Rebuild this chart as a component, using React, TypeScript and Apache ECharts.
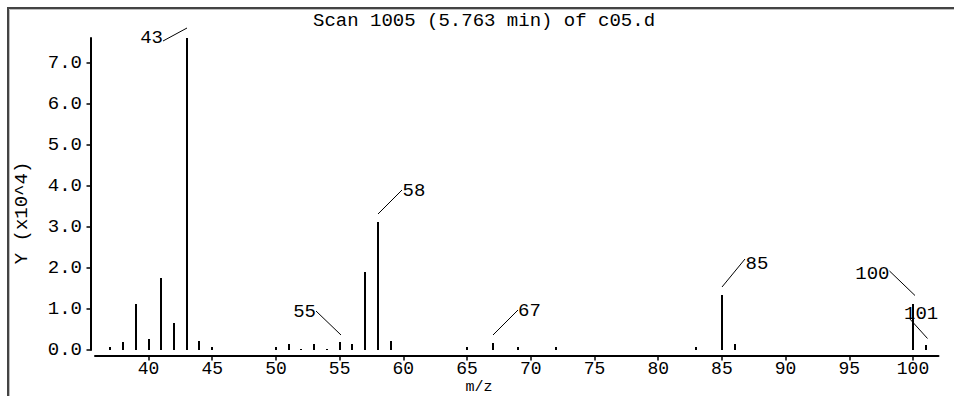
import React, { useEffect, useRef } from "react";
import * as echarts from "echarts";

// ---- data ----
const titleText = "Scan 1005 (5.763 min) of c05.d";
const xAxisName = "m/z";
const yAxisName = "Y (x10^4)";
const mzValues = [37, 38, 39, 40, 41, 42, 43, 44, 45, 50, 51, 52, 53, 54, 55, 56, 57, 58, 59, 65, 67, 69, 72, 83, 85, 86, 100, 101];
const abundances = [0.08, 0.19, 1.11, 0.27, 1.76, 0.65, 7.6, 0.22, 0.08, 0.08, 0.14, 0.03, 0.14, 0.03, 0.19, 0.14, 1.91, 3.13, 0.23, 0.08, 0.16, 0.08, 0.08, 0.08, 1.34, 0.14, 1.11, 0.12];
const labeledPeaks = [43, 55, 58, 67, 85, 100, 101];
const xTickValues = [40, 45, 50, 55, 60, 65, 70, 75, 80, 85, 90, 95, 100];
const yTickValues = [0, 1, 2, 3, 4, 5, 6, 7];

// ---- label placement (style only: pixel offsets from the peak top) ----
type LabelLayout = { line: [number, number, number, number]; text: [number, number]; align: "left" | "right" };
const labelLayout: Record<number, LabelLayout> = {
  43: { line: [0, -10, -24, 3], text: [-24, -0.5], align: "right" },
  55: { line: [1, -7, -24, -31], text: [-24, -30.5], align: "right" },
  58: { line: [0, -8, 24, -32], text: [24.5, -31.5], align: "left" },
  67: { line: [0, -8, 25, -33], text: [25, -32], align: "left" },
  85: { line: [0, -8, 23, -36], text: [23.5, -31], align: "left" },
  100: { line: [2, -8.5, -23.5, -33], text: [-23.5, -30.5], align: "right" },
  101: { line: [1.5, -6.5, -17, -27], text: [-22, -31], align: "left" },
};

const FONT = '"Liberation Mono", "DejaVu Sans Mono", monospace';
const FS = 19;

export default function App() {
  const ref = useRef<HTMLDivElement>(null);

  useEffect(() => {
    if (!ref.current) return;
    const chart = echarts.init(ref.current, undefined, { renderer: "svg" });

    const stickData = mzValues.map((m, i) => [m, abundances[i]]);
    const labelData = labeledPeaks.map((m) => [m, abundances[mzValues.indexOf(m)], m]);

    chart.setOption({
      animation: false,
      backgroundColor: "#ffffff",
      title: {
        text: titleText,
        left: 313,
        top: 11,
        padding: 0,
        textStyle: { fontFamily: FONT, fontSize: FS, fontWeight: "normal", color: "#000" },
      },
      grid: { left: 95, right: 15.5, top: 38, bottom: 46 },
      xAxis: {
        type: "value",
        min: 35.8,
        max: 102,
        offset: 5.5,
        axisLine: { show: true, onZero: false, lineStyle: { color: "#000", width: 2 } },
        axisTick: { show: true, length: 5, customValues: xTickValues, lineStyle: { color: "#000", width: 1.5 } },
        axisLabel: {
          customValues: xTickValues,
          margin: 4,
          color: "#000",
          fontFamily: FONT,
          fontSize: 18,
        },
        splitLine: { show: false },
      },
      yAxis: {
        type: "value",
        min: 0,
        max: 7.6,
        offset: 4.5,
        axisLine: { show: true, lineStyle: { color: "#000", width: 2 } },
        axisTick: { show: true, length: 4, customValues: yTickValues, lineStyle: { color: "#000", width: 1.5 } },
        axisLabel: {
          customValues: yTickValues,
          margin: 8.5,
          color: "#000",
          fontFamily: FONT,
          fontSize: FS,
          formatter: (v: number) => v.toFixed(1),
        },
        splitLine: { show: false },
      },
      graphic: [
        {
          type: "polyline",
          shape: { points: [[8, 400], [8, 8], [960, 8]] },
          style: { fill: "none", stroke: "#444444", lineWidth: 2 },
          silent: true,
        },
        {
          type: "polyline",
          shape: { points: [[9.5, 400], [9.5, 9.5], [960, 9.5]] },
          style: { fill: "none", stroke: "#bdbdbd", lineWidth: 1 },
          silent: true,
        },
        {
          type: "text",
          x: 21.7,
          y: 213,
          rotation: Math.PI / 2,
          style: {
            text: yAxisName,
            fontFamily: FONT,
            fontSize: FS,
            fill: "#000",
            align: "center",
            verticalAlign: "middle",
          },
        },
        {
          type: "text",
          x: 479,
          y: 387.5,
          style: {
            text: xAxisName,
            fontFamily: FONT,
            fontSize: 15,
            fill: "#000",
            align: "center",
            verticalAlign: "middle",
          },
        },
      ],
      series: [
        {
          type: "custom",
          name: "sticks",
          clip: false,
          data: stickData,
          renderItem: (params: any, api: any) => {
            const top = api.coord([api.value(0), api.value(1)]);
            const base = api.coord([api.value(0), 0]);
            const x = Math.round(top[0]);
            return {
              type: "line",
              shape: { x1: x, y1: Math.round(base[1]), x2: x, y2: Math.round(top[1]) },
              style: { stroke: "#000", lineWidth: 2 },
            };
          },
        },
        {
          type: "custom",
          name: "labels",
          clip: false,
          data: labelData,
          renderItem: (params: any, api: any) => {
            const p = api.coord([api.value(0), api.value(1)]);
            const m = api.value(2);
            const L = labelLayout[m];
            const px = Math.round(p[0]);
            const py = Math.round(p[1]);
            return {
              type: "group",
              children: [
                {
                  type: "line",
                  shape: { x1: px + L.line[0], y1: py + L.line[1], x2: px + L.line[2], y2: py + L.line[3] },
                  style: { stroke: "#000", lineWidth: 1 },
                },
                {
                  type: "text",
                  x: px + L.text[0],
                  y: py + L.text[1],
                  style: {
                    text: String(m),
                    fontFamily: FONT,
                    fontSize: FS,
                    fill: "#000",
                    align: L.align,
                    verticalAlign: "middle",
                  },
                },
              ],
            };
          },
        },
      ],
    });

    return () => chart.dispose();
  }, []);

  return (
    <div
      ref={ref}
      style={{ position: "absolute", left: 0, top: 0, width: 954, height: 396 }}
    />
  );
}
